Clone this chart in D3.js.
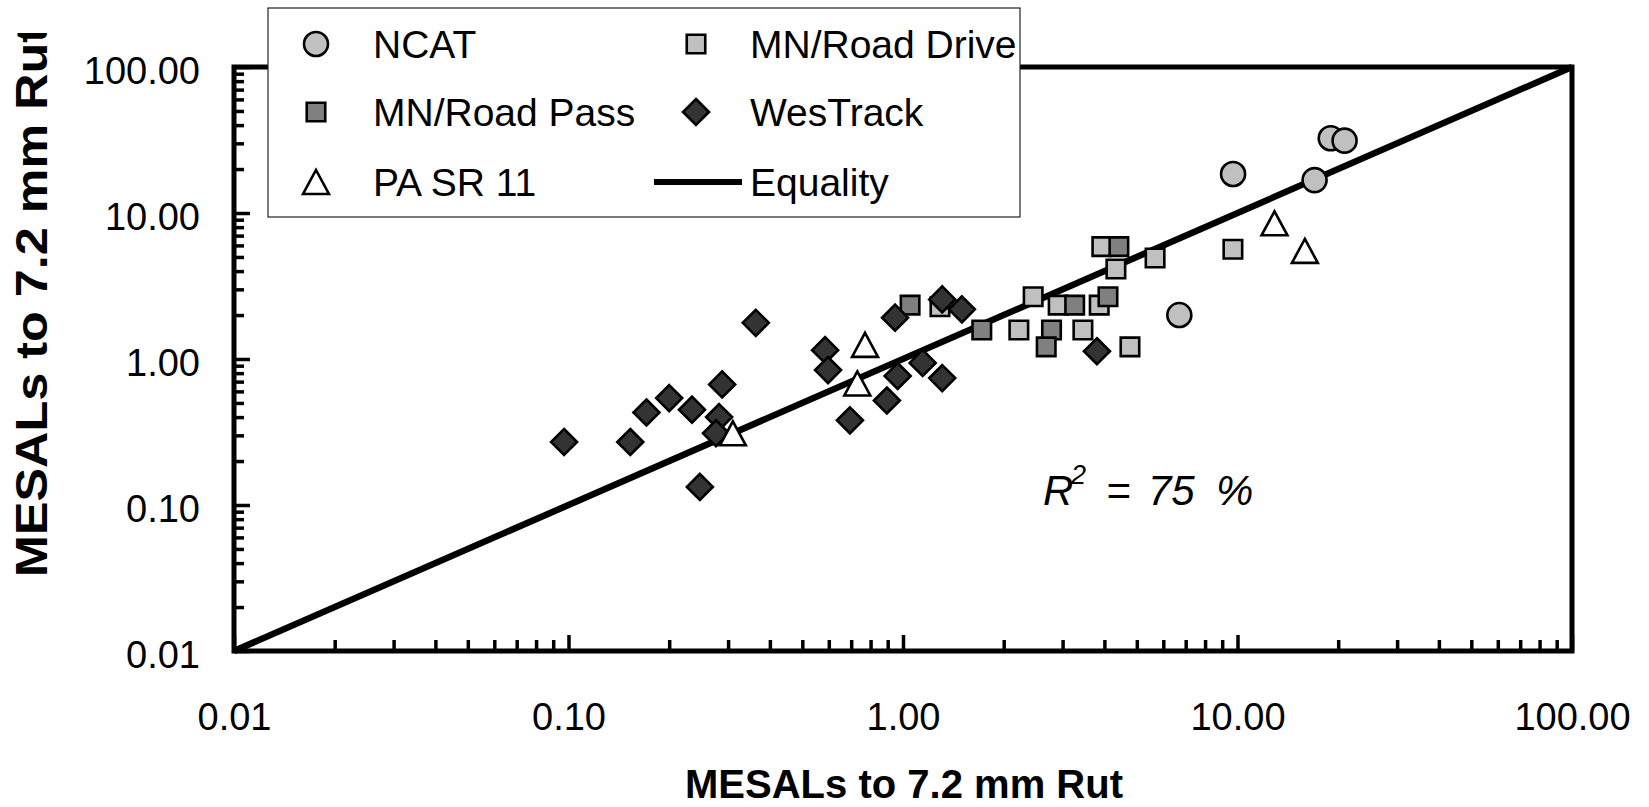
<!DOCTYPE html>
<html>
<head>
<meta charset="utf-8">
<script src="https://cdn.jsdelivr.net/npm/d3@7.9.0/dist/d3.min.js"></script>
<style>
  html, body { margin: 0; padding: 0; background: #fff; }
  svg { display: block; }
  text { font-family: "Liberation Sans", Arial, sans-serif; fill: #000; }
</style>
</head>
<body>
<svg id="chart" width="1649" height="807"></svg>
<script>
const ncatX = [19.0, 20.9, 9.7, 17.0, 6.7];
const ncatY = [32.5, 31.3, 18.5, 16.8, 2.0];

const driveX = [3.93, 5.67, 4.33, 2.45, 2.91, 3.86, 2.22, 3.45, 4.77, 9.69, 1.29];
const driveY = [5.88, 4.92, 4.13, 2.67, 2.34, 2.34, 1.58, 1.58, 1.21, 5.64, 2.28];

const passX = [4.42, 3.26, 4.10, 2.78, 2.68, 1.05, 1.72];
const passY = [5.88, 2.34, 2.67, 1.58, 1.21, 2.34, 1.58];

const wesX = [0.097, 0.153, 0.171, 0.200, 0.234, 0.288, 0.282, 0.276, 0.247, 0.363,
              0.585, 0.597, 0.694, 0.947, 1.31, 1.50, 1.145, 0.964, 1.31, 0.895, 3.80];
const wesY = [0.27, 0.27, 0.43, 0.54, 0.45, 0.67, 0.40, 0.31, 0.133, 1.77,
              1.15, 0.84, 0.38, 1.92, 2.56, 2.19, 0.94, 0.765, 0.74, 0.52, 1.13];

const paX = [0.31, 0.73, 0.77, 12.9, 15.9];
const paY = [0.31, 0.68, 1.25, 8.5, 5.5];

const equality = [0.01, 100];
const majorTicks = [0.01, 0.1, 1, 10, 100];
const tickLabels = ['0.01', '0.10', '1.00', '10.00', '100.00'];
const axisTitle = 'MESALs to 7.2 mm Rut';

const svg = d3.select('#chart');

const x = d3.scaleLog().domain([0.01, 100]).range([234, 1572]);
const y = d3.scaleLog().domain([0.01, 100]).range([651, 67]);

const minorTicks = x.ticks().filter(v => !majorTicks.some(m => Math.abs(m - v) < 1e-9));

// marker shapes
const diamond = {
  draw(ctx, size) {
    const r = Math.sqrt(size / 2);
    ctx.moveTo(0, -r); ctx.lineTo(r, 0); ctx.lineTo(0, r); ctx.lineTo(-r, 0); ctx.closePath();
  }
};
const triangle = {
  draw(ctx, size) {
    const s = Math.sqrt(size);
    ctx.moveTo(0, -s * 0.5); ctx.lineTo(s * 0.54, s * 0.5); ctx.lineTo(-s * 0.54, s * 0.5); ctx.closePath();
  }
};

const series = [
  { name: 'NCAT', xs: ncatX, ys: ncatY, type: d3.symbolCircle, size: Math.PI * 12 * 12, fill: '#c0c0c0' },
  { name: 'MN/Road Drive', xs: driveX, ys: driveY, type: d3.symbolSquare, size: 18.5 * 18.5, fill: '#c0c0c0' },
  { name: 'MN/Road Pass', xs: passX, ys: passY, type: d3.symbolSquare, size: 18.5 * 18.5, fill: '#808080' },
  { name: 'WesTrack', xs: wesX, ys: wesY, type: diamond, size: 2 * 13 * 13, fill: '#333333' },
  { name: 'PA SR 11', xs: paX, ys: paY, type: triangle, size: 24 * 24, fill: '#ffffff' }
];

// frame
const frame = svg.append('g').attr('stroke', '#000').attr('stroke-width', 5).attr('fill', 'none');
frame.append('rect')
  .attr('x', x(0.01)).attr('y', y(100))
  .attr('width', x(100) - x(0.01)).attr('height', y(0.01) - y(100));

// axes, ticks pointing inward
const xMinor = svg.append('g').attr('transform', `translate(0,${y(0.01)})`)
  .call(d3.axisBottom(x).tickValues(minorTicks).tickSize(-11).tickFormat(''));
const xMajor = svg.append('g').attr('transform', `translate(0,${y(0.01)})`)
  .call(d3.axisBottom(x).tickValues(majorTicks).tickSize(-16).tickPadding(52)
    .tickFormat((d, i) => tickLabels[i]));
const yMinor = svg.append('g').attr('transform', `translate(${x(0.01)},0)`)
  .call(d3.axisLeft(y).tickValues(minorTicks).tickSize(-10).tickFormat(''));
const yMajor = svg.append('g').attr('transform', `translate(${x(0.01)},0)`)
  .call(d3.axisLeft(y).tickValues(majorTicks).tickSize(-16).tickPadding(34)
    .tickFormat((d, i) => tickLabels[i]));

[xMinor, xMajor, yMinor, yMajor].forEach(g => {
  g.select('.domain').remove();
  g.selectAll('line').attr('stroke', '#000').attr('stroke-width', 3.5);
  g.selectAll('text').attr('font-size', 38).attr('font-family', '"Liberation Sans", Arial, sans-serif').attr('fill', '#000');
});
yMajor.selectAll('text').attr('dy', '0.43em');

// equality line
svg.append('line')
  .attr('x1', x(equality[0])).attr('y1', y(equality[0]))
  .attr('x2', x(equality[1])).attr('y2', y(equality[1]))
  .attr('stroke', '#000').attr('stroke-width', 6.5);

// points
series.forEach(s => {
  const sym = d3.symbol().type(s.type).size(s.size);
  svg.append('g').selectAll('path')
    .data(s.xs.map((v, i) => [v, s.ys[i]]))
    .join('path')
    .attr('transform', d => `translate(${x(d[0])},${y(d[1])})`)
    .attr('d', sym)
    .attr('fill', s.fill)
    .attr('stroke', '#000')
    .attr('stroke-width', 2.6);
});

// R^2 note
const note = svg.append('text')
  .attr('font-family', '"DejaVu Sans", sans-serif')
  .attr('font-style', 'italic')
  .attr('font-size', 42)
  .attr('y', 505);
note.append('tspan').attr('x', 1043).text('R');
note.append('tspan').attr('x', 1071).attr('y', 484).attr('font-size', 27).text('2');
note.append('tspan').attr('x', 1106).attr('y', 505).text('=');
note.append('tspan').attr('x', 1148).text('75');
note.append('tspan').attr('x', 1216).text('%');

// axis titles
svg.append('text')
  .attr('x', 685).attr('y', 798)
  .attr('font-size', 40).attr('font-weight', 'bold')
  .attr('textLength', 438).attr('lengthAdjust', 'spacingAndGlyphs')
  .text(axisTitle);

svg.append('clipPath').attr('id', 'ytitle-clip')
  .append('rect').attr('x', 0).attr('y', 33).attr('width', 120).attr('height', 774);
svg.append('g').attr('clip-path', 'url(#ytitle-clip)')
  .append('text')
  .attr('transform', 'translate(46.5,577) rotate(-90)')
  .attr('font-size', 45).attr('font-weight', 'bold')
  .attr('textLength', 551).attr('lengthAdjust', 'spacingAndGlyphs')
  .text(axisTitle);

// legend
const legend = svg.append('g');
legend.append('rect')
  .attr('x', 268).attr('y', 8).attr('width', 752).attr('height', 209)
  .attr('fill', '#fff').attr('stroke', '#222').attr('stroke-width', 1.2);

const legendItems = [
  { s: series[0], col: 0, row: 0 },
  { s: series[1], col: 1, row: 0 },
  { s: series[2], col: 0, row: 1 },
  { s: series[3], col: 1, row: 1 },
  { s: series[4], col: 0, row: 2 },
  { s: { name: 'Equality', line: true }, col: 1, row: 2 }
];
const colSym = [316, 696], colText = [373, 750], rowY = [44, 112, 182];

legendItems.forEach(it => {
  const cy = rowY[it.row];
  if (it.s.line) {
    legend.append('line')
      .attr('x1', 654).attr('x2', 742).attr('y1', cy).attr('y2', cy)
      .attr('stroke', '#000').attr('stroke-width', 6);
  } else {
    legend.append('path')
      .attr('transform', `translate(${colSym[it.col]},${cy})`)
      .attr('d', d3.symbol().type(it.s.type).size(it.s.size))
      .attr('fill', it.s.fill).attr('stroke', '#000').attr('stroke-width', 2.6);
  }
  legend.append('text')
    .attr('x', colText[it.col]).attr('y', cy + 14)
    .attr('font-size', 39)
    .text(it.s.name);
});
</script>
</body>
</html>
